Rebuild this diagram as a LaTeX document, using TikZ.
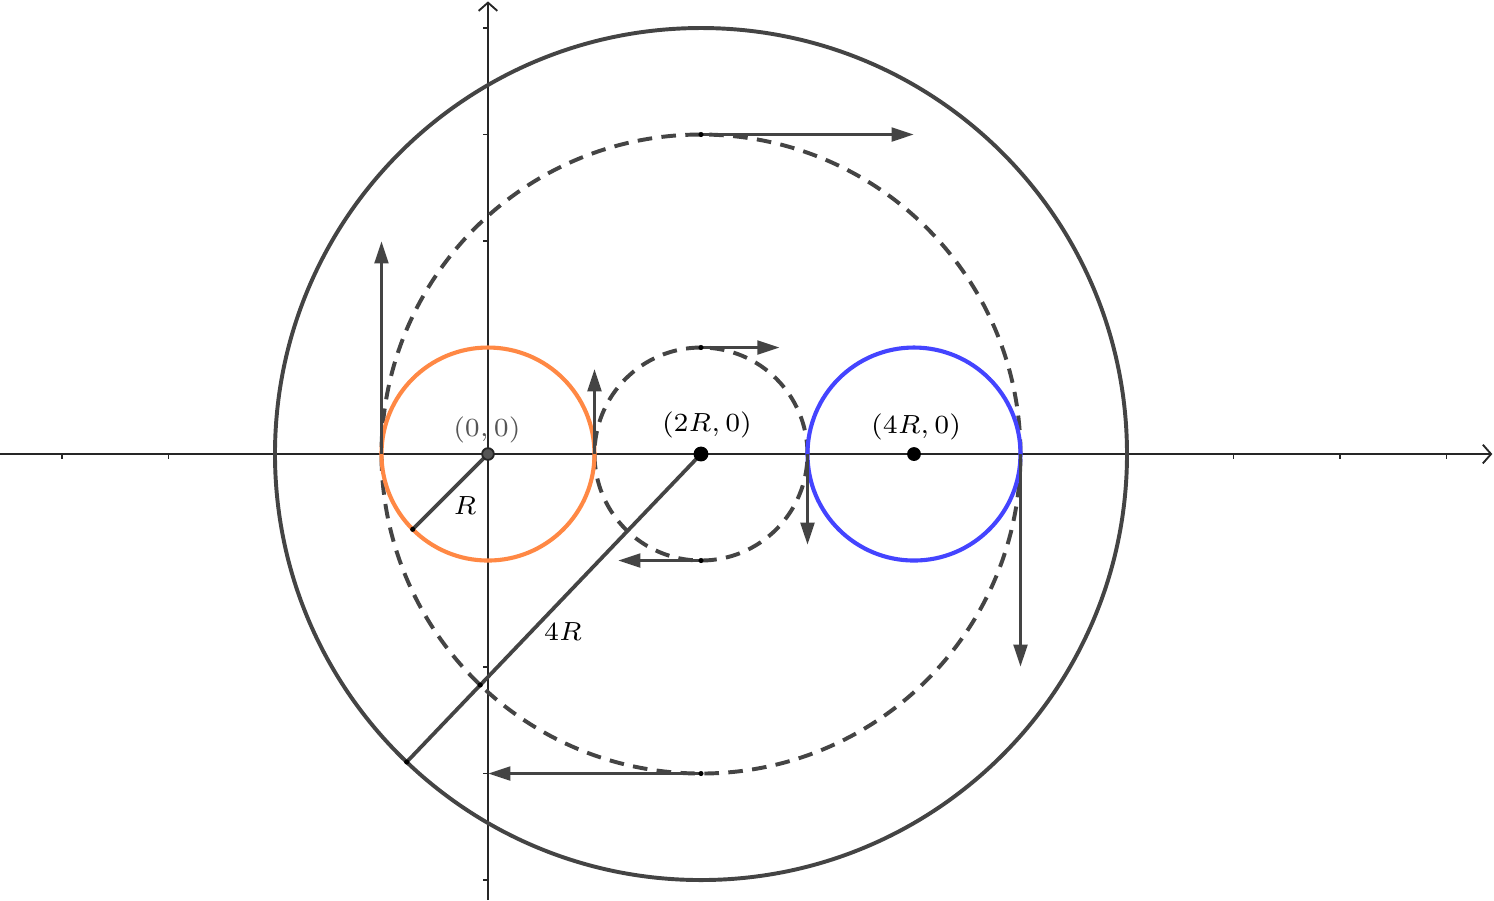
\documentclass[tikz,border=0pt]{standalone}
\usetikzlibrary{arrows.meta,calc}
\definecolor{dk}{RGB}{68,68,68}
\definecolor{orng}{RGB}{255,136,68}
\definecolor{blu}{RGB}{68,68,255}
\definecolor{lbl}{RGB}{85,85,85}
\begin{document}
\begin{tikzpicture}[x=1cm,y=1cm, font=\fontsize{7.2}{8.6}\selectfont,
  axis/.style={draw=black!85, line width=0.5pt, -{Straight Barb[length=2.2pt,width=5pt]}},
  tk/.style={draw=black!85, line width=0.45pt},
  vel/.style={draw=dk, line width=1pt, -{Triangle[length=6pt,width=3.6pt]}},
  solidc/.style={draw=dk, line width=1.05pt},
  dsh/.style={draw=dk, line width=1.05pt, dash pattern=on 3.9pt off 2.5pt},
  seg/.style={draw=dk, line width=1pt},
  sdot/.style={fill=black},
  bdot/.style={fill=black}
]
\useasboundingbox (-4.582,-4.188) rectangle (9.446,4.263);
% key points
\coordinate (O) at (0,0);
\coordinate (C2) at (2,0);
\coordinate (C4) at (4,0);
\coordinate (xl) at (-4.582,0);
\coordinate (xr) at (9.43,0);
\coordinate (yb) at (0,-4.188);
\coordinate (yt) at (0,4.25);
% axes
\draw[axis] (xl) -- (xr);
\draw[axis] (yb) -- (yt);
\foreach \k in {-4,-3,-2,-1,1,2,3,4,5,6,7,8,9} \draw[tk] (\k,0) -- (\k,-0.045);
\foreach \k in {-4,-3,-2,-1,1,2,3,4} \draw[tk] (0,\k) -- (-0.045,\k);
% circles
\draw[solidc] (C2) circle (4);
\draw[dsh] (C2) circle (3);
\draw[dsh] (C2) circle (1);
\draw[orng, line width=1.1pt] (O) circle (1);
\draw[blu, line width=1.1pt] (C4) circle (1);
% radius segments
\coordinate (Rend) at ($(O)+(225:1)$);
\coordinate (Fend) at ($(C2)+(226.3:4)$);
\coordinate (Fmid) at ($(C2)+(226.3:3)$);
\draw[seg] (O) -- (Rend);
\draw[seg] (C2) -- (Fend);
% velocity arrows
\coordinate (a1) at (-1,0); \coordinate (b1) at (-1,2);
\coordinate (a2) at (1,0);  \coordinate (b2) at (1,0.8);
\coordinate (a3) at (2,3);  \coordinate (b3) at (4,3);
\coordinate (a4) at (2,1);  \coordinate (b4) at (2.74,1);
\coordinate (a5) at (3,0);  \coordinate (b5) at (3,-0.855);
\coordinate (a6) at (2,-1); \coordinate (b6) at (1.22,-1);
\coordinate (a7) at (5,0);  \coordinate (b7) at (5,-2);
\coordinate (a8) at (2,-3); \coordinate (b8) at (0,-3);
\foreach \i in {1,...,8} \draw[vel] (a\i) -- (b\i);
% small dots
\foreach \p in {a3,a4,a6,a8,Rend,Fend,Fmid} \fill[sdot] (\p) circle (0.024);
% points
\filldraw[fill=lbl, draw=black!85, line width=0.5pt] (O) circle (0.055);
\fill[bdot] (C2) circle (0.07);
\fill[bdot] (C4) circle (0.065);
% labels
\node[text=lbl] (lO) at (-0.01,0.23) {$(0,0)$};
\node (lR) at (-0.216,-0.488) {$R$};
\node (l2) at (2.056,0.277) {$(2R,0)$};
\node (l4) at (4.02,0.254) {$(4R,0)$};
\node (l4R) at (0.704,-1.667) {$4R$};
\end{tikzpicture}
\end{document}
